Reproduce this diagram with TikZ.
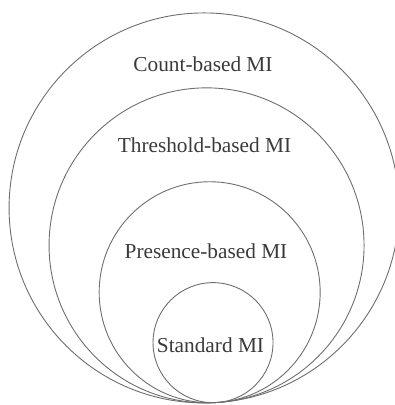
\documentclass[tikz,border=0pt]{standalone}
\usepackage{fontspec}
\setmainfont{Liberation Serif}
\definecolor{ringc}{HTML}{6E6E6E}
\definecolor{txtc}{HTML}{3A3A3A}
\begin{document}
\begin{tikzpicture}[x=1pt,y=-1pt,
  ring/.style={draw=ringc,line width=0.9pt,circle,inner sep=0pt,fill=none},
  lbl/.style={text=txtc,font=\fontsize{21.3}{24}\selectfont,anchor=base,inner sep=0pt}]
\useasboundingbox (0,0) rectangle (395,405);
\clip (0,0) rectangle (395,405);
\node[ring,minimum size=390pt] (c1) at (204.07,207.93) {};
\node[ring,minimum size=315pt] (c2) at (206.56,245.35) {};
\node[ring,minimum size=221pt] (c3) at (209.67,292.24) {};
\node[ring,minimum size=120pt] (c4) at (213.02,342.63) {};
\node[lbl] (t1) at (203,71.7) {Count-based MI};
\node[lbl] (t2) at (204.5,152) {Threshold-based MI};
\node[lbl] (t3) at (206,258) {Presence-based MI};
\node[lbl] (t4) at (210.5,352.7) {Standard MI};
\end{tikzpicture}
\end{document}
